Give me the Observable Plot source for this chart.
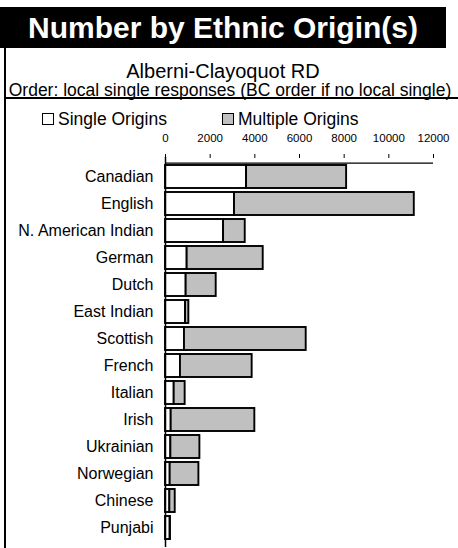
<!DOCTYPE html>
<html>
<head>
<meta charset="utf-8">
<script src="https://cdn.jsdelivr.net/npm/d3@7"></script>
<script src="https://cdn.jsdelivr.net/npm/@observablehq/plot@0.6"></script>
<style>
  html, body { margin: 0; padding: 0; background: #fff; }
  body { font-family: "Liberation Sans", Arial, sans-serif; }
  #wrap { position: relative; width: 458px; height: 548px; overflow: hidden; background: #fff; }
  .abs { position: absolute; }
  #title { left: 0; top: 7px; width: 446px; height: 41px; background: #000; color: #fff;
           font-weight: bold; font-size: 30px; line-height: 41px; text-align: center; }
  #sub { left: 0; top: 60px; width: 446px; text-align: center; font-size: 20px; line-height: 22px; color: #000; }
  #order { left: 0; top: 80px; width: 460px; text-align: center; font-size: 17.5px; line-height: 20px; color: #000; white-space: nowrap; }
  #vline { left: 4px; top: 48px; width: 1.5px; height: 500px; background: #000; }
  #hline { left: 4px; top: 97px; width: 454px; height: 1.5px; background: #000; }
  .leg { top: 109px; font-size: 17.5px; line-height: 20px; color: #000; white-space: nowrap; display: flex; align-items: center; }
  .sw { display: inline-block; width: 10px; height: 10px; border: 1px solid #000; margin-right: 4px; }
  #plot { left: 0; top: 0; }
</style>
</head>
<body>
<div id="wrap">
  <div id="plot" class="abs"></div>
  <div id="vline" class="abs"></div>
  <div id="hline" class="abs"></div>
  <div id="title" class="abs">Number by Ethnic Origin(s)</div>
  <div id="sub" class="abs">Alberni-Clayoquot RD</div>
  <div id="order" class="abs">Order: local single responses (BC order if no local single)</div>
  <div id="legend"></div>
</div>
<script>
const categories = ["Canadian","English","N. American Indian","German","Dutch","East Indian","Scottish","French","Italian","Irish","Ukrainian","Norwegian","Chinese","Punjabi"];
const singleOrigins = [3630,3090,2600,970,925,900,850,670,390,255,240,210,195,210];
const multipleOrigins = [4480,8050,970,3405,1345,145,5450,3210,490,3745,1300,1285,240,10];
const seriesNames = ["Single Origins","Multiple Origins"];
const seriesColors = ["#ffffff","#c0c0c0"];
const xTicks = [0,2000,4000,6000,8000,10000,12000];

const rows = [];
categories.forEach((c, i) => {
  rows.push({cat: c, series: seriesNames[0], value: singleOrigins[i]});
  rows.push({cat: c, series: seriesNames[1], value: multipleOrigins[i]});
});

// legend (HTML)
const legend = document.getElementById("legend");
const legPos = [42, 222];
seriesNames.forEach((s, i) => {
  const d = document.createElement("div");
  d.className = "abs leg";
  d.style.left = legPos[i] + "px";
  const sw = document.createElement("span");
  sw.className = "sw";
  sw.style.background = seriesColors[i];
  d.appendChild(sw);
  d.appendChild(document.createTextNode(s));
  legend.appendChild(d);
});

const W = 458, H = 548, mTop = 157, mBottom = 1;
const pInner = 0.16, pOuter = 0.08;
const step = (H - mTop - mBottom) / (categories.length - pInner + 2 * pOuter);

const chart = Plot.plot({
  width: W,
  height: H,
  marginTop: mTop,
  marginBottom: mBottom,
  marginLeft: 165,
  marginRight: 25,
  style: {background: "transparent", fontFamily: "'Liberation Sans', Arial, sans-serif", color: "#000"},
  x: {domain: [0, 12000]},
  y: {domain: categories, paddingInner: pInner, paddingOuter: pOuter},
  color: {domain: seriesNames, range: seriesColors},
  marks: [
    Plot.barX(rows, Plot.stackX({x: "value", y: "cat", fill: "series", stroke: "#000", strokeWidth: 1.9, order: seriesNames})),
    Plot.ruleX([0], {stroke: "#000", strokeWidth: 1.5}),
    Plot.ruleY([categories[0]], {x1: 0, x2: 12000, dy: -step / 2, stroke: "#000", strokeWidth: 1.2}),
    Plot.axisX({anchor: "top", ticks: xTicks, tickFormat: d => String(d), tickSize: 4, tickPadding: 12, fontSize: 11.5, label: null}),
    Plot.axisY({anchor: "left", tickSize: 0, tickPadding: 12, fontSize: 16, label: null})
  ]
});
document.getElementById("plot").appendChild(chart);
</script>
</body>
</html>
